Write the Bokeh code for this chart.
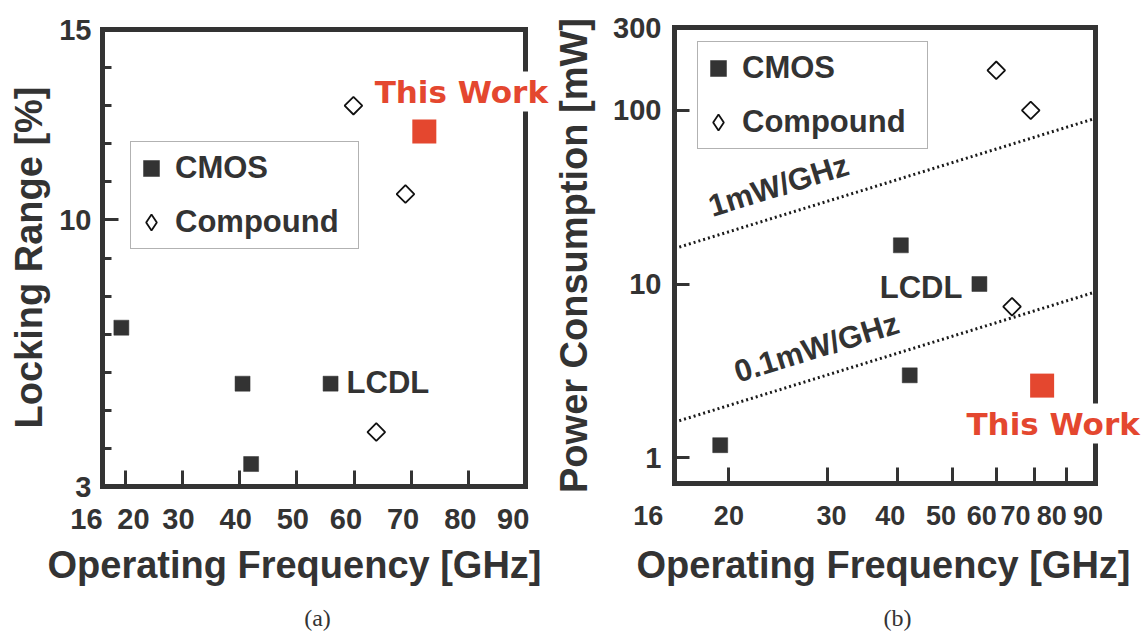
import math
from bokeh.plotting import figure
from bokeh.models import (LinearAxis, LogAxis, FixedTicker, PrintfTickFormatter,
                          Label, Legend, LegendItem, Range1d)
from bokeh.layouts import row
from bokeh.embed import file_html
from bokeh.resources import INLINE

# ---------------- data ----------------
cmos_freq = [19.3, 40.5, 55.9, 42.0]
cmos_lock = [7.17, 5.70, 5.70, 3.59]
cmos_power = [1.18, 16.7, 10.0, 2.98]
comp_freq = [59.9, 69.0, 63.9]
comp_lock = [13.0, 10.68, 4.43]
comp_power = [170.0, 100.0, 7.4]
this_freq = [72.3]
this_lock = [12.32]
this_power = [2.6]
lcdl_index = 2

freq_ticks = [16, 20, 30, 40, 50, 60, 70, 80, 90]
lock_ticks = [3, 10, 15]
lock_minor = [4, 5, 6, 7, 8, 9, 11, 12, 13, 14]
power_ticks = [1, 10, 100, 300]
freq_lim = (16, 90)
lock_lim = (3, 15)
power_lim = (0.71, 300)

guide_freq = [16, 90]
guide_1mw = [16, 90]      # 1 mW/GHz
guide_01mw = [1.6, 9.0]   # 0.1 mW/GHz

# ---------------- layout (page pixels) ----------------
H = 631
A_W = 553
A_L, A_R, A_T, A_B = 102, 525, 29, 486           # plot box of (a)
B_X0, B_W = 553, 595
B_L, B_R, B_T, B_B = 674, 1095, 27, 483          # plot box of (b)

DARK = "#333333"
RED = "#e4472f"
FONT = "Liberation Sans"
SPINE_W = 5
NB = "\u00a0"

# (a): linear scales, frame = whole canvas
kx = (freq_lim[1] - freq_lim[0]) / (A_R - A_L)
ky = (lock_lim[1] - lock_lim[0]) / (A_B - A_T)
a_xr = (freq_lim[0] - A_L * kx, freq_lim[1] + (A_W - A_R) * kx)
a_yr = (lock_lim[0] - (H - A_B) * ky, lock_lim[1] + A_T * ky)


def a_x(px):
    return freq_lim[0] + (px - A_L) * kx


def a_y(py):
    return lock_lim[1] - (py - A_T) * ky


# (b): log scales, frame = whole canvas
decx = (B_R - B_L) / math.log10(freq_lim[1] / freq_lim[0])
decy = (B_B - B_T) / math.log10(power_lim[1] / power_lim[0])
b_xr = (freq_lim[0] * 10 ** (-(B_L - B_X0) / decx), freq_lim[1] * 10 ** ((B_X0 + B_W - B_R) / decx))
b_yr = (power_lim[0] * 10 ** (-(H - B_B) / decy), power_lim[1] * 10 ** (B_T / decy))


def b_x(px):
    return freq_lim[0] * 10 ** ((px - B_L) / decx)


def b_y(py):
    return power_lim[1] * 10 ** (-(py - B_T) / decy)


def tick_axis(cls, loc, bounds, ticks, minor=None, tick_in=16, size="29px"):
    ax = cls(fixed_location=loc, bounds=bounds)
    ax.ticker = FixedTicker(ticks=ticks, minor_ticks=minor or [])
    ax.formatter = PrintfTickFormatter(format="%d")
    ax.major_label_text_font = FONT
    ax.major_label_text_font_style = "bold"
    ax.major_label_text_font_size = size
    ax.major_label_text_color = DARK
    ax.axis_line_width = SPINE_W
    ax.axis_line_color = DARK
    ax.axis_line_cap = "square"
    ax.major_tick_in = tick_in
    ax.major_tick_out = 0
    ax.major_tick_line_width = 3
    ax.major_tick_line_color = DARK
    ax.minor_tick_in = 9
    ax.minor_tick_out = 0
    ax.minor_tick_line_width = 3
    ax.minor_tick_line_color = DARK
    return ax


def spine(p, side, cls, loc, bounds):
    ax = cls(fixed_location=loc, bounds=bounds, ticker=FixedTicker(ticks=[]),
             major_label_text_font_size="0px",
             major_tick_line_color=None, minor_tick_line_color=None,
             axis_line_width=SPINE_W, axis_line_color=DARK, axis_line_cap="square")
    p.add_layout(ax, side)


def text(p, x, y, s, size="38px", angle=0.0, align="center", baseline="middle",
         bold=True, font=FONT, color=DARK, **kw):
    p.add_layout(Label(x=x, y=y, text=s, angle=angle, text_align=align,
                       text_baseline=baseline, text_font=font,
                       text_font_style="bold" if bold else "normal",
                       text_font_size=size, text_color=color, **kw))


def add_points(p, yc, yp, yt):
    r_cmos = p.scatter(cmos_freq, yc, marker="square", size=15,
                       fill_color=DARK, line_color=DARK, line_width=0.5)
    p.scatter(comp_freq, yp, marker="square", size=12.5, angle=math.pi / 4,
              fill_color="white", line_color="#111111", line_width=1.8)
    r_leg = p.scatter(comp_freq, yp, marker="diamond", size=17,
                      fill_color="white", line_color="#111111", line_width=1.8, visible=False)
    p.scatter(this_freq, yt, marker="square", size=24, fill_color=RED, line_color=None)
    return r_cmos, r_leg


def make_legend(p, r_cmos, r_comp, loc, lw):
    leg = Legend(items=[LegendItem(label="CMOS", renderers=[r_cmos]),
                        LegendItem(label="Compound", renderers=[r_comp])],
                 location=loc, margin=0, padding=0, spacing=2,
                 glyph_width=40, glyph_height=52, label_height=52,
                 label_width=lw, label_standoff=4,
                 label_text_font=FONT, label_text_font_style="bold",
                 label_text_font_size="31px", label_text_color=DARK,
                 border_line_color="#666666", border_line_width=1.5,
                 background_fill_color="white", background_fill_alpha=1.0)
    p.add_layout(leg)


def base_fig(w, xr, yr, **kw):
    p = figure(width=w, height=H, x_range=Range1d(*xr), y_range=Range1d(*yr),
               x_axis_location=None, y_axis_location=None,
               output_backend="svg", toolbar_location=None,
               min_border=0, min_border_left=0, min_border_right=0,
               min_border_top=0, min_border_bottom=0, **kw)
    p.outline_line_color = None
    p.background_fill_color = "white"
    p.border_fill_color = "white"
    p.xgrid.grid_line_color = None
    p.ygrid.grid_line_color = None
    return p


# ---------------- (a) locking range ----------------
p1 = base_fig(A_W, a_xr, a_yr)

xa = tick_axis(LinearAxis, lock_lim[0], freq_lim, freq_ticks)
xa.major_label_standoff = 16
xa.major_label_overrides = {16: "16" + NB * 4, 20: NB * 2 + "20", 30: "30" + NB,
                            40: "40" + NB, 50: "50" + NB, 60: "60" + NB * 2,
                            70: "70" + NB * 2, 80: "80" + NB * 2, 90: "90" + NB * 3}
p1.add_layout(xa, "below")
ya = tick_axis(LinearAxis, freq_lim[0], lock_lim, lock_ticks, lock_minor)
ya.major_label_standoff = 11
p1.add_layout(ya, "left")
spine(p1, "above", LinearAxis, lock_lim[1], freq_lim)
spine(p1, "right", LinearAxis, freq_lim[1], lock_lim)

rc1, rl1 = add_points(p1, cmos_lock, comp_lock, this_lock)
make_legend(p1, rc1, rl1, (130, H - 249), 183)

text(p1, a_x(28), a_y(257), "Locking Range [%]", angle=math.pi / 2)
text(p1, a_x(294), a_y(564), "Operating Frequency [GHz]")
text(p1, cmos_freq[lcdl_index], cmos_lock[lcdl_index], "LCDL", size="31px",
     align="left", x_offset=16, y_offset=1)
text(p1, this_freq[0], this_lock[0], "This Work", size="31px", font="DejaVu Sans",
     color=RED, x_offset=37, y_offset=40, background_fill_color="white", padding=2)
text(p1, a_x(317), a_y(617), "(a)", size="24px", bold=False, font="Liberation Serif")

# ---------------- (b) power consumption ----------------
p2 = base_fig(B_W, b_xr, b_yr, x_axis_type="log", y_axis_type="log")

xb = tick_axis(LogAxis, power_lim[0], freq_lim, freq_ticks, size="27px")
xb.major_label_standoff = 17
xb.major_label_overrides = {16: "16" + NB * 7, 30: NB + "30", 40: "40" + NB * 2,
                            50: "50" + NB * 3, 60: "60" + NB * 4, 70: "70" + NB * 5,
                            80: "80" + NB * 4, 90: "90" + NB * 2}
p2.add_layout(xb, "below")
yb = tick_axis(LogAxis, freq_lim[0], power_lim, power_ticks, tick_in=15)
yb.major_label_standoff = 13
p2.add_layout(yb, "left")
spine(p2, "above", LogAxis, power_lim[1], freq_lim)
spine(p2, "right", LogAxis, freq_lim[1], power_lim)

p2.line(guide_freq, guide_1mw, line_color="#1a1a1a", line_width=3, line_dash="2 3")
p2.line(guide_freq, guide_01mw, line_color="#1a1a1a", line_width=3, line_dash="2 3")

rc2, rl2 = add_points(p2, cmos_power, comp_power, this_power)
make_legend(p2, rc2, rl2, (697 - B_X0, H - 149), 185)

text(p2, b_x(573), b_y(255), "Power Consumption [mW]", angle=math.pi / 2)
text(p2, b_x(883), b_y(564), "Operating Frequency [GHz]")
text(p2, b_x(778), b_y(185), "1mW/GHz", size="31px", angle=0.30)
text(p2, b_x(816), b_y(347), "0.1mW/GHz", size="31px", angle=0.30)
text(p2, cmos_freq[lcdl_index], cmos_power[lcdl_index], "LCDL", size="31px",
     align="right", x_offset=-17, y_offset=-3)
text(p2, this_freq[0], this_power[0], "This Work", size="31px", font="DejaVu Sans",
     color=RED, x_offset=11, y_offset=-38, background_fill_color="white", padding=2)
text(p2, b_x(897), b_y(617), "(b)", size="24px", bold=False, font="Liberation Serif")

layout = row(p1, p2, spacing=0)
open("out.html", "w").write(file_html(layout, INLINE))
